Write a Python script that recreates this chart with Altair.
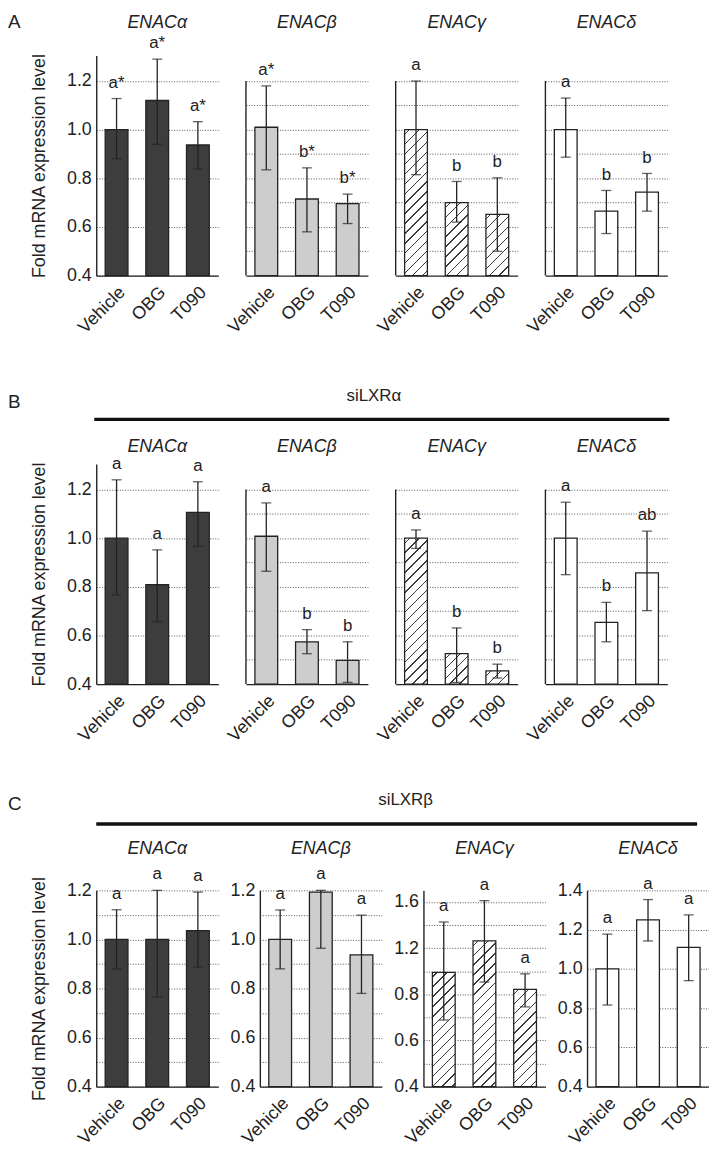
import altair as alt
import pandas as pd

# ---------------- data ----------------
treatments = ["Vehicle", "OBG", "T090"]
genes = ["ENACα", "ENACβ", "ENACγ", "ENACδ"]

# Panel A (no siRNA)
a_mean = [[1.00, 1.12, 0.937], [1.01, 0.715, 0.696], [1.00, 0.70, 0.652], [1.00, 0.665, 0.743]]
a_hi = [[1.128, 1.29, 1.033], [1.18, 0.843, 0.735], [1.20, 0.787, 0.802], [1.13, 0.75, 0.82]]
a_lo = [[0.88, 0.94, 0.839], [0.835, 0.58, 0.614], [0.815, 0.62, 0.50], [0.887, 0.573, 0.665]]
a_sig = [["a*", "a*", "a*"], ["a*", "b*", "b*"], ["a", "b", "b"], ["a", "b", "b"]]

# Panel B (siLXRα)
b_mean = [[1.00, 0.809, 1.106], [1.008, 0.574, 0.498], [1.00, 0.525, 0.454], [1.00, 0.654, 0.857]]
b_hi = [[1.24, 0.952, 1.232], [1.145, 0.624, 0.574], [1.034, 0.631, 0.482], [1.148, 0.736, 1.029]]
b_lo = [[0.767, 0.656, 0.966], [0.864, 0.525, 0.407], [0.958, 0.407, 0.425], [0.85, 0.574, 0.702]]
b_sig = [["a", "a", "a"], ["a", "b", "b"], ["a", "b", "b"], ["a", "b", "ab"]]

# Panel C (siLXRβ)
c_mean = [[1.00, 1.00, 1.036], [1.00, 1.193, 0.937], [0.99, 1.263, 0.843], [1.00, 1.25, 1.11]]
c_hi = [[1.121, 1.20, 1.193], [1.12, 1.20, 1.099], [1.426, 1.611, 0.977], [1.177, 1.353, 1.275]]
c_lo = [[0.88, 0.766, 0.887], [0.88, 0.964, 0.78], [0.577, 0.906, 0.691], [0.816, 1.142, 0.94]]
c_sig = [["a", "a", "a"], ["a", "a", "a"], ["a", "a", "a"], ["a", "a", "a"]]

# axes: domains, grid values and tick labels
ab_domain = [0.4, 1.305]
ab_first_ticks = [0.4, 0.6, 0.8, 1.0, 1.2]
ab_first_labels = ["0.4", "0.6", "0.8", "1.0", "1.2"]
ab_other_grid = [0.5, 0.6, 0.7, 0.8, 0.9, 1.0, 1.1, 1.2]

c_domains = [[0.4, 1.2], [0.4, 1.2], [0.0, 1.7], [0.4, 1.4]]
c_grids = [
    [0.4, 0.5, 0.6, 0.7, 0.8, 0.9, 1.0, 1.1, 1.2],
    [0.4, 0.5, 0.6, 0.7, 0.8, 0.9, 1.0, 1.1, 1.2],
    [0.0, 0.2, 0.4, 0.6, 0.8, 1.0, 1.2, 1.4, 1.6],
    [0.4, 0.6, 0.8, 1.0, 1.2, 1.4],
]
c_label_pos = [
    [0.4, 0.6, 0.8, 1.0, 1.2],
    [0.4, 0.6, 0.8, 1.0, 1.2],
    [0.0, 0.4, 0.8, 1.2, 1.6],
    [0.4, 0.6, 0.8, 1.0, 1.2, 1.4],
]
c_label_txt = [
    ["0.4", "0.6", "0.8", "1.0", "1.2"],
    ["0.4", "0.6", "0.8", "1.0", "1.2"],
    ["0.4", "0.6", "0.8", "1.2", "1.6"],
    ["0.4", "0.6", "0.8", "1.0", "1.2", "1.4"],
]

# ---------------- styling ----------------
FONT = "Liberation Sans"
INK = "#222222"
PANEL_W = 123
AB_H = 222
C_H = 198
BAND = 0.56
FILLS = ["#3d3d3d", "#cdcdcd", None, "#ffffff"]
YTITLE = "Fold mRNA expression level"


def label_expr(positions, texts):
    expr = "''"
    for p, t in reversed(list(zip(positions, texts))):
        expr = f"abs(datum.value - {p}) < 0.001 ? '{t}' : ({expr})"
    return expr


def hatch(h, w=PANEL_W / 3 * BAND, period=10.0, lw=1.4):
    """Diagonal '/' hatch as a hard-stop linear gradient in bbox units."""
    h = max(h, 1.0)
    L = w + h
    r = w / h
    dy = (r + 1) / (r * r + 1)
    dx = r * dy
    stops = [{"offset": 0, "color": "#ffffff"}]
    s = period / 2
    while s < L:
        a = round(max(0.0, (s - lw / 2) / L), 5)
        b = round(min(1.0, (s + lw / 2) / L), 5)
        stops += [
            {"offset": a, "color": "#ffffff"},
            {"offset": a, "color": "#3a3a3a"},
            {"offset": b, "color": "#3a3a3a"},
            {"offset": b, "color": "#ffffff"},
        ]
        s += period
    stops.append({"offset": 1, "color": "#ffffff"})
    return {"gradient": "linear", "x1": 0, "y1": 0, "x2": round(dx, 5), "y2": round(dy, 5), "stops": stops}


def one_row_df():
    return pd.DataFrame({"k": [0]})


def text_mark(txt, x, y, size, align="center", italic=False):
    kw = dict(align=align, baseline="alphabetic", fontSize=size, color=INK)
    if italic:
        kw["fontStyle"] = "italic"
    return (alt.Chart(one_row_df()).mark_text(**kw)
            .encode(x=alt.value(x), y=alt.value(y), text=alt.value(txt)))


def panel(gi, mean, lo, hi, sig, height, dom, grid_vals, lab_pos, lab_txt,
          first, show_domain, title_y, extras=()):
    df = pd.DataFrame({"treat": treatments, "mean": mean, "lo": lo, "hi": hi, "sig": sig})

    ax_kw = dict(values=grid_vals, grid=True, gridDash=[1, 1.6], gridColor="#555555", gridWidth=1,
                 ticks=False, domain=show_domain, domainColor=INK, domainWidth=1.4)
    if lab_pos is not None:
        ax_kw.update(labels=True, labelExpr=label_expr(lab_pos, lab_txt), labelFontSize=18,
                     labelPadding=5, labelColor=INK)
    else:
        ax_kw.update(labels=False)
    if first:
        ax_kw.update(title=YTITLE, titleFontSize=18, titleFontWeight="normal", titleColor=INK,
                     titlePadding=18)
    else:
        ax_kw.update(title=None)
    yaxis = alt.Axis(**ax_kw)
    yscale = alt.Scale(domain=dom, nice=False, zero=False)

    xaxis = alt.Axis(title=None, labelAngle=-45, labelAlign="right", labelBaseline="middle",
                     labelFontSize=18, labelPadding=14, labelOffset=6, labelColor=INK,
                     ticks=False, grid=False, domainColor=INK, domainWidth=1.4)
    x = alt.X("treat:N", scale=alt.Scale(domain=treatments, paddingInner=0, paddingOuter=0),
              axis=xaxis)

    def Y(field):
        return alt.Y(f"{field}:Q", scale=yscale, axis=yaxis)

    bar_kw = dict(width=alt.RelativeBandSize(BAND), stroke=INK, strokeWidth=1.3)
    layers = []
    if FILLS[gi] is None:
        ppu = height / (dom[1] - dom[0])
        for i in range(3):
            g = hatch((mean[i] - dom[0]) * ppu)
            layers.append(
                alt.Chart(df.iloc[[i]]).mark_bar(fill=g, **bar_kw)
                .encode(x=x, y=Y("mean"), y2=alt.Y2Datum(dom[0]))
            )
    else:
        layers.append(
            alt.Chart(df).mark_bar(fill=FILLS[gi], **bar_kw)
            .encode(x=x, y=Y("mean"), y2=alt.Y2Datum(dom[0]))
        )

    base = alt.Chart(df)
    layers.append(base.mark_rule(color=INK, strokeWidth=1.3).encode(x=x, y=Y("lo"), y2=alt.Y2("hi:Q")))
    layers.append(base.mark_tick(orient="horizontal", size=10, thickness=1.3, color=INK).encode(x=x, y=Y("hi")))
    layers.append(base.mark_tick(orient="horizontal", size=10, thickness=1.3, color=INK).encode(x=x, y=Y("lo")))
    layers.append(base.mark_text(baseline="bottom", dy=-7, fontSize=17, color=INK)
                  .encode(x=x, y=Y("hi"), text="sig:N"))

    if not show_domain:
        layers.append(
            alt.Chart(one_row_df()).mark_rule(color=INK, strokeWidth=1.4)
            .encode(x=alt.value(0), y=alt.YDatum(0.4, scale=yscale, axis=yaxis), y2=alt.Y2Datum(1.2))
        )
    # gene name above the panel
    layers.append(text_mark(genes[gi], PANEL_W / 2, title_y, 18, italic=True))
    layers.extend(extras)

    return alt.layer(*layers).properties(width=PANEL_W, height=height)


def bar_line(x0, x1, y):
    return (alt.Chart(one_row_df()).mark_rule(color="#111111", strokeWidth=3.5)
            .encode(x=alt.value(x0), x2=alt.value(x1), y=alt.value(y)))


def ab_row(means, his, los, sigs, title_y, extras):
    panels = []
    for gi in range(4):
        first = gi == 0
        panels.append(panel(
            gi, means[gi], los[gi], his[gi], sigs[gi], AB_H, ab_domain,
            ab_first_ticks if first else ab_other_grid,
            ab_first_ticks if first else None,
            ab_first_labels if first else None,
            first, first, title_y, extras if first else ()))
    return alt.hconcat(*panels, spacing=28, bounds="flush")


row_a = ab_row(a_mean, a_hi, a_lo, a_sig, -28, [text_mark("A", -89, -28, 19, align="left")])
row_b = ab_row(b_mean, b_hi, b_lo, b_sig, -12,
               [text_mark("B", -89, -56, 19, align="left"),
                text_mark("siLXRα", 280, -64, 17),
                bar_line(-2, 578, -45)])

c_panels = []
for gi in range(4):
    first = gi == 0
    extras = [text_mark("C", -89, -81, 19, align="left"),
              text_mark("siLXRβ", 312, -86, 17),
              bar_line(0, 606, -67)] if first else ()
    c_panels.append(panel(gi, c_mean[gi], c_lo[gi], c_hi[gi], c_sig[gi], C_H, c_domains[gi],
                          c_grids[gi], c_label_pos[gi], c_label_txt[gi], first, True, -37, extras))
row_c = alt.hconcat(*c_panels, spacing=42, bounds="flush")

# with flush bounds a nested concat counts as zero height, so spacing = row height + gap
chart = (
    alt.vconcat(row_a, alt.vconcat(row_b, row_c, spacing=AB_H + 208, bounds="flush"),
                spacing=AB_H + 190, bounds="flush")
    .properties(padding=0)
    .configure(font=FONT)
    .configure_view(stroke=None)
)

chart.save("out.html", embed_options={"renderer": "svg", "actions": False})
